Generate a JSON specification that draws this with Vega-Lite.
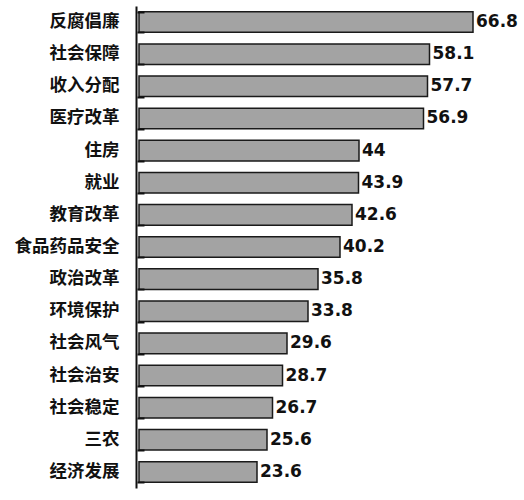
{
  "$schema": "https://vega.github.io/schema/vega-lite/v6.json",
  "autosize": "none",
  "width": 350,
  "height": 482,
  "padding": {"left": 136, "top": 6, "right": 38, "bottom": 12},
  "background": "white",
  "data": {
    "values": [
      {"topic": "反腐倡廉", "score": 66.8},
      {"topic": "社会保障", "score": 58.1},
      {"topic": "收入分配", "score": 57.7},
      {"topic": "医疗改革", "score": 56.9},
      {"topic": "住房", "score": 44},
      {"topic": "就业", "score": 43.9},
      {"topic": "教育改革", "score": 42.6},
      {"topic": "食品药品安全", "score": 40.2},
      {"topic": "政治改革", "score": 35.8},
      {"topic": "环境保护", "score": 33.8},
      {"topic": "社会风气", "score": 29.6},
      {"topic": "社会治安", "score": 28.7},
      {"topic": "社会稳定", "score": 26.7},
      {"topic": "三农", "score": 25.6},
      {"topic": "经济发展", "score": 23.6}
    ]
  },
  "encoding": {
    "x": {
      "field": "score",
      "type": "quantitative",
      "scale": {"domain": [0, 70]},
      "axis": null
    }
  },
  "layer": [
    {
      "mark": {"type": "bar", "fill": "#a3a3a3", "stroke": "#1a1a1a", "strokeWidth": 1.5, "xOffset": 3},
      "encoding": {
        "y": {
          "field": "topic",
          "type": "nominal",
          "sort": null,
          "title": null,
          "scale": {"paddingInner": 0.36, "paddingOuter": 0.18},
          "axis": {
            "zindex": 1,
            "domainColor": "#111",
            "domainWidth": 2,
            "ticks": false,
            "labelPadding": 17,
            "labelFont": "Noto Sans CJK SC",
            "labelFontWeight": "bold",
            "labelFontSize": 17.5,
            "labelColor": "#111"
          }
        }
      }
    },
    {
      "mark": {"type": "text", "align": "left", "dx": 6, "font": "DejaVu Sans", "fontWeight": "bold", "fontSize": 17, "color": "#111"},
      "encoding": {
        "y": {
          "field": "topic",
          "type": "nominal",
          "sort": null,
          "title": null,
          "axis": {
            "orient": "right",
            "offset": -349,
            "zindex": 2,
            "domain": false,
            "labels": false,
            "ticks": true,
            "tickBand": "extent",
            "tickColor": "#111",
            "tickWidth": 2,
            "tickSize": 7
          }
        },
        "text": {"field": "score", "type": "quantitative"}
      }
    }
  ],
  "resolve": {"axis": {"y": "independent"}},
  "config": {"view": {"stroke": null}}
}
